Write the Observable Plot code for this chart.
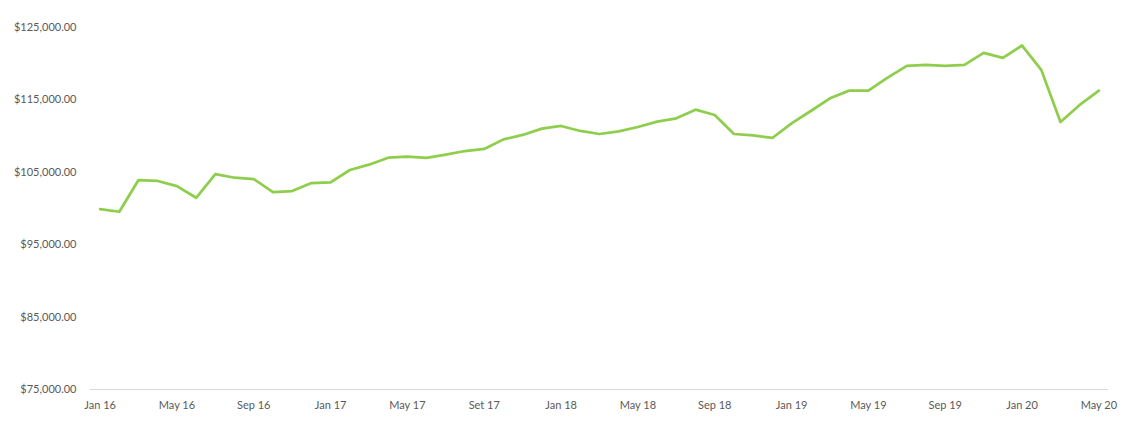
<!DOCTYPE html>
<html>
<head>
<meta charset="utf-8">
<script src="https://cdn.jsdelivr.net/npm/d3@7"></script>
<script src="https://cdn.jsdelivr.net/npm/@observablehq/plot@0.6"></script>
<style>
  html, body { margin: 0; padding: 0; background: #fff; }
  #chart { width: 1124px; height: 427px; }
</style>
</head>
<body>
<div id="chart"></div>
<script>
const months = [
  "Jan 16","Feb 16","Mar 16","Apr 16","May 16","Jun 16","Jul 16","Aug 16","Sep 16","Oct 16","Nov 16","Dec 16",
  "Jan 17","Feb 17","Mar 17","Apr 17","May 17","Jun 17","Jul 17","Aug 17","Set 17","Oct 17","Nov 17","Dec 17",
  "Jan 18","Feb 18","Mar 18","Apr 18","May 18","Jun 18","Jul 18","Aug 18","Sep 18","Oct 18","Nov 18","Dec 18",
  "Jan 19","Feb 19","Mar 19","Apr 19","May 19","Jun 19","Jul 19","Aug 19","Sep 19","Oct 19","Nov 19","Dec 19",
  "Jan 20","Feb 20","Mar 20","Apr 20","May 20"
];
const values = [
  99900, 99550, 103930, 103800, 103100, 101480, 104760, 104250, 104070, 102270, 102410, 103520,
  103600, 105320, 106050, 107020, 107150, 106980, 107430, 107940, 108220, 109550, 110160, 111030,
  111400, 110710, 110290, 110650, 111260, 112000, 112450, 113650, 112920, 110290, 110100, 109740,
  111760, 113470, 115220, 116280, 116280, 118080, 119700, 119840, 119700, 119840, 121500, 120800,
  122510, 119150, 111950, 114300, 116280
];
const tickLabels = ["Jan 16","May 16","Sep 16","Jan 17","May 17","Set 17","Jan 18","May 18","Sep 18","Jan 19","May 19","Sep 19","Jan 20","May 20"];
const yTicks = [75000, 85000, 95000, 105000, 115000, 125000];

const data = months.map((m, i) => ({month: m, value: values[i]}));
const fmt = d3.format(",.2f");

const chart = Plot.plot({
  width: 1124,
  height: 427,
  marginLeft: 90,
  marginRight: 16,
  marginTop: 27,
  marginBottom: 38,
  style: {fontFamily: "Lato, 'Liberation Sans', sans-serif", fontSize: "11px", color: "#595959", background: "#fff"},
  x: {type: "point", domain: months, padding: 0.5, round: false, label: null},
  y: {domain: [75000, 125000], label: null},
  marks: [
    Plot.ruleY([75000], {stroke: "#d9d9d9", strokeWidth: 1}),
    Plot.axisX({ticks: tickLabels, tickSize: 0, tickPadding: 12, label: null, fill: "#595959"}),
    Plot.axisY({ticks: yTicks, tickSize: 0, tickPadding: 14, label: null, tickFormat: d => "$" + fmt(d), fill: "#595959"}),
    Plot.lineY(data, {x: "month", y: "value", stroke: "#8fce4c", strokeWidth: 2.75, strokeLinejoin: "round", strokeLinecap: "round"})
  ]
});
document.getElementById("chart").appendChild(chart);
</script>
</body>
</html>
